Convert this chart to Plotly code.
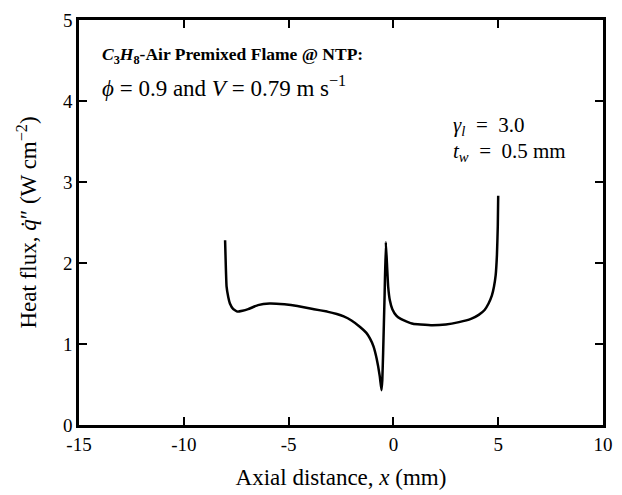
import plotly.graph_objects as go

# data
x_mm = [-8.03, -8.0, -7.96, -7.88, -7.80, -7.64, -7.44, -7.2, -6.93, -6.46, -5.91, -5.20,
        -4.58, -3.79, -3.16, -2.7, -2.37, -2.0, -1.59, -1.3, -1.12, -0.95, -0.80, -0.65,
        -0.57, -0.53, -0.49, -0.42, -0.36, -0.30, -0.25, -0.17, -0.05, 0.14, 0.35, 0.61,
        0.93, 1.3, 1.87, 2.5, 3.13, 3.7, 4.07, 4.35, 4.54, 4.70, 4.80, 4.88, 4.94, 4.98, 5.0]
q_flux = [2.28, 2.0, 1.71, 1.58, 1.50, 1.43, 1.40, 1.41, 1.43, 1.48, 1.50, 1.49,
          1.47, 1.43, 1.40, 1.37, 1.34, 1.29, 1.21, 1.14, 1.07, 0.97, 0.82, 0.60,
          0.43, 0.55, 0.89, 1.6, 2.26, 1.95, 1.71, 1.54, 1.43, 1.35, 1.31, 1.28,
          1.25, 1.24, 1.23, 1.24, 1.27, 1.31, 1.36, 1.42, 1.50, 1.60, 1.71, 1.85, 2.1, 2.45, 2.83]

x_ticks = [-15, -10, -5, 0, 5, 10]
y_ticks = [0, 1, 2, 3, 4, 5]

FONT = "Liberation Serif"

fig = go.Figure()
fig.add_trace(go.Scatter(x=x_mm, y=q_flux, mode="lines",
                         line=dict(color="black", width=2.5, shape="spline", smoothing=0.3),
                         showlegend=False))

axis_common = dict(showgrid=False, zeroline=False, showline=True, linecolor="black",
                   linewidth=2.5, mirror="ticks", ticks="inside", ticklen=8,
                   tickwidth=2, tickcolor="black",
                   tickfont=dict(family=FONT, size=19, color="black"))

fig.update_xaxes(range=[-15, 10], tickvals=x_ticks, ticktext=[str(v) for v in x_ticks],
                 title=dict(text="Axial distance, <i>x</i> (mm)",
                            font=dict(family=FONT, size=23, color="black"), standoff=16),
                 automargin=False, **axis_common)
fig.update_yaxes(range=[0, 5], tickvals=y_ticks, ticktext=[str(v) for v in y_ticks],
                 title=dict(text="Heat flux, <i>q̇</i>″ (W cm<sup>−2</sup>)",
                            font=dict(family=FONT, size=23, color="black"), standoff=20),
                 automargin=False, **axis_common)

annots = [
    dict(x=0.04, y=0.912, text="<b><i>C</i><sub>3</sub><i>H</i><sub>8</sub>-Air Premixed Flame @ NTP:</b>",
         size=17.5),
    dict(x=0.04, y=0.835, text="<i>ϕ</i> = 0.9 and <i>V</i> = 0.79 m s<sup>−1</sup>", size=23),
    dict(x=0.71, y=0.738, text="<i>γ<sub>l</sub></i>  =  3.0", size=21),
    dict(x=0.71, y=0.675, text="<i>t<sub>w</sub></i>  =  0.5 mm", size=21),
]
for a in annots:
    fig.add_annotation(x=a["x"], y=a["y"], xref="paper", yref="paper", text=a["text"],
                       showarrow=False, xanchor="left", yanchor="middle",
                       font=dict(family=FONT, size=a["size"], color="black"))

fig.update_layout(width=622, height=495, margin=dict(l=79, r=19, t=20, b=70),
                  paper_bgcolor="white", plot_bgcolor="white")
fig.write_html("out.html")
